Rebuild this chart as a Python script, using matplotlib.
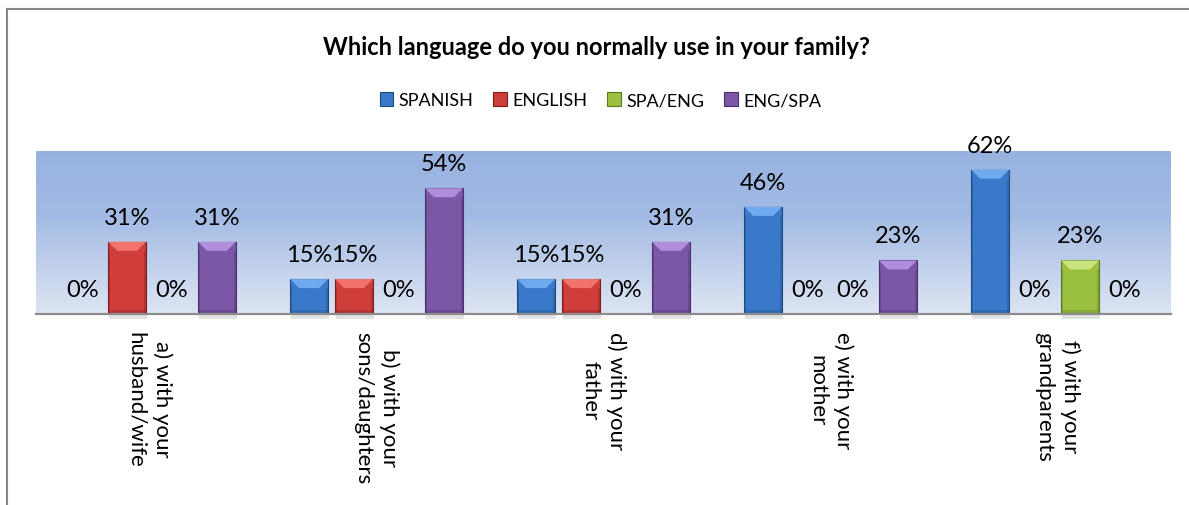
import numpy as np
import matplotlib.pyplot as plt
from matplotlib.colors import LinearSegmentedColormap
from matplotlib.patches import Polygon
from matplotlib.lines import Line2D

plt.rcParams['font.family'] = ['Lato', 'DejaVu Sans']

categories = ['a) with your\nhusband/wife', 'b) with your\nsons/daughters',
              'd) with your\nfather', 'e) with your\nmother', 'f) with your\ngrandparents']
series = ['SPANISH', 'ENGLISH', 'SPA/ENG', 'ENG/SPA']
spanish = [0, 15, 15, 46, 62]
english = [31, 15, 15, 0, 0]
spa_eng = [0, 0, 0, 0, 23]
eng_spa = [31, 54, 31, 23, 0]
values = [spanish, english, spa_eng, eng_spa]

# main face, edge, bevel highlight
colors = ['#3A79C9', '#CF3E3B', '#9BC03F', '#7C57A6']
edges = ['#1E4A82', '#7A1F1D', '#5A7A22', '#4A2F6E']
lights = ['#6FAAEE', '#F2736E', '#C9E57E', '#B18DDD']

fig = plt.figure(figsize=(11.89, 5.06), dpi=100)
ax = fig.add_axes([36 / 1189, 1 - 315 / 506, 1135 / 1189, 163 / 506])
ax.set_xlim(-0.5, 4.5)
ax.set_ylim(0, 70)

# plot area gradient
grad = LinearSegmentedColormap.from_list('bg', [(0, '#DEE5F3'), (0.6, '#A3BBE4'), (1, '#98B2E0')])
ax.imshow(np.linspace(0, 1, 256).reshape(-1, 1), cmap=grad, aspect='auto',
          extent=[0, 1, 0, 1], transform=ax.transAxes, origin='lower', zorder=0)

x = np.arange(len(categories))
pitch = 0.198
width = 0.167
px_x = 5 / 1135
px_y = 70 / 163
bev = 9

for i, vals in enumerate(values):
    xs = x + (i - 1.5) * pitch
    bars = ax.bar(xs, vals, width, color=colors[i], edgecolor=edges[i], linewidth=0.8, zorder=2)
    for b, v in zip(bars, vals):
        if v > 0:
            bx, bw, bh = b.get_x(), b.get_width(), b.get_height()
            dx, dy = bev * px_x, bev * px_y
            top = Polygon([(bx, bh), (bx + bw, bh), (bx + bw - dx, bh - dy), (bx + dx, bh - dy)],
                          closed=True, facecolor=lights[i], edgecolor='none', zorder=3)
            ax.add_patch(top)
            for sx in (bx, bx + bw - 0.25 * dx):
                ax.add_patch(plt.Rectangle((sx, 0), 0.25 * dx, bh - dy, facecolor=edges[i],
                                           alpha=0.35, edgecolor='none', zorder=3))
            ax.add_patch(plt.Rectangle((bx, 0), bw, 0.4 * dy, facecolor=edges[i],
                                       alpha=0.3, edgecolor='none', zorder=3))
            # soft shadow under the bar
            ax.add_patch(plt.Rectangle((bx + 0.1 * dx, -5 * px_y), bw, 5 * px_y, facecolor='#A0A0A0',
                                       alpha=0.3, edgecolor='none', zorder=1, clip_on=False))
        ax.annotate(f'{v}%', (b.get_x() + b.get_width() / 2, v), xytext=(0, 13),
                    textcoords='offset points', ha='center', va='baseline',
                    fontsize=17, color='black', zorder=4, annotation_clip=False)

for s in ['top', 'left', 'right']:
    ax.spines[s].set_visible(False)
ax.spines['bottom'].set_color('#8C8C8C')
ax.spines['bottom'].set_linewidth(1.6)
ax.spines['bottom'].set_zorder(5)
ax.set_yticks([])
ax.set_xticks(x)
ax.set_xticklabels(categories, rotation=270, fontsize=16, ha='center', va='top',
                   linespacing=1.4, multialignment='center')
ax.tick_params(axis='x', length=0, pad=12)

fig.text(0.502, 0.907, 'Which language do you normally use in your family?',
         ha='center', va='center', fontsize=17, fontweight='bold')

handles = [plt.Rectangle((0, 0), 1, 1, facecolor=colors[i], edgecolor=edges[i], linewidth=0.8)
           for i in range(4)]
fig.legend(handles, series, loc='center', bbox_to_anchor=(0.505, 0.80), ncol=4,
           frameon=False, fontsize=13, handlelength=0.75, handleheight=0.75,
           handletextpad=0.3, columnspacing=1.1)

# chart frame
fig.add_artist(Line2D([7 / 1189, 7 / 1189], [0, 1 - 10 / 506], transform=fig.transFigure,
                      color='#878787', linewidth=1.5))
fig.add_artist(Line2D([7 / 1189, 1], [1 - 10 / 506, 1 - 10 / 506], transform=fig.transFigure,
                      color='#878787', linewidth=1.5))

fig.savefig('out.png', dpi=100)
